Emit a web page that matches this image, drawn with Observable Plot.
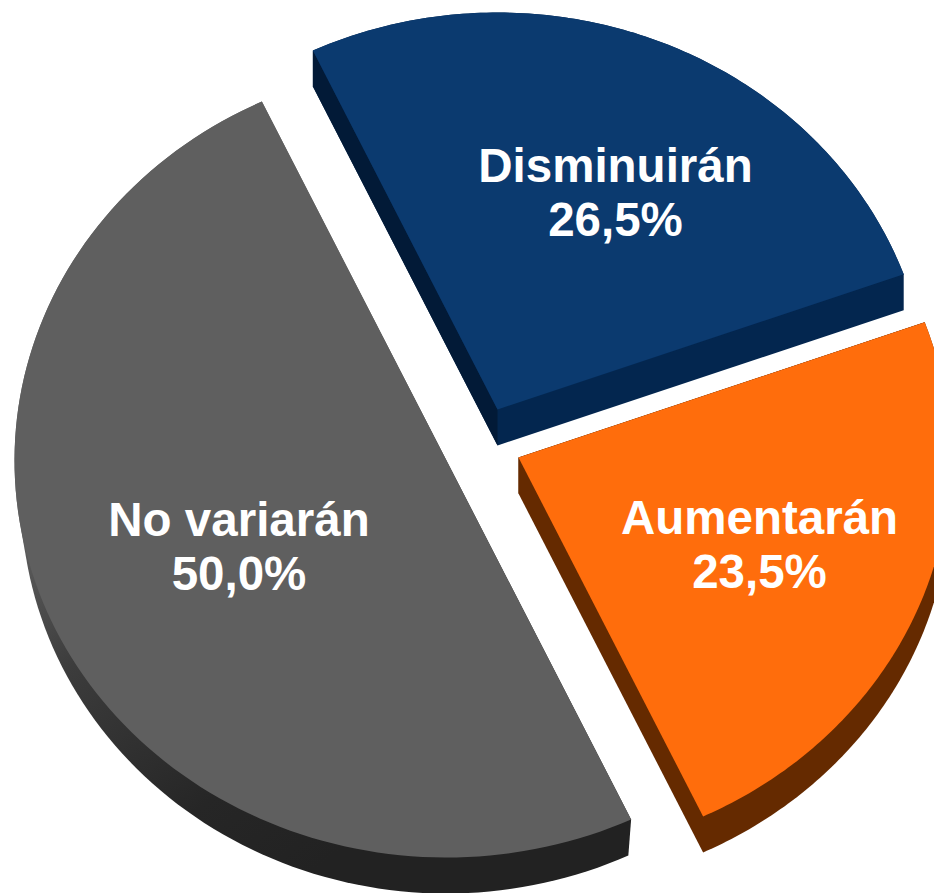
<!DOCTYPE html>
<html lang="es">
<head>
<meta charset="utf-8">
<title>Pie chart</title>
<script src="https://cdn.jsdelivr.net/npm/d3@7"></script>
<script src="https://cdn.jsdelivr.net/npm/@observablehq/plot@0.6"></script>
<style>
  html, body { margin: 0; padding: 0; background: #fff; }
  svg { display: block; }
</style>
</head>
<body>
<div id="chart"></div>
<script>
// Data, clockwise from the start angle
const categories = ["Disminuirán", "Aumentarán", "No variarán"];
const shares = [26.5, 23.5, 50.0];

// Styles
const topColors = ["#0b3a6f", "#ff6d0c", "#5f5f5f"];
const frontColors = ["#03264f", "#652a00", "url(#rim)"];
const leftColors = ["#021a37", "#652a00", null];

// Layout of the tilted, exploded pie
const centers = [[497, 409], [518, 457], [446, 460]];
const labelAt = [[615, 191], [759, 543], [238.5, 545]];
const rx = 432, ry = 397, depth = 36;
const baseShrink = 0.985; // perspective: the underside is slightly narrower
const startAngle = -25.3;

const W = 934, H = 893;
const total = d3.sum(shares);
let cursor = startAngle;
const slices = categories.map((name, i) => {
  const a0 = cursor, a1 = cursor + shares[i] / total * 360;
  cursor = a1;
  const [cx, cy] = centers[i];
  const arc = d3.range(0, 121).map(k => {
    const a = (a0 + (a1 - a0) * k / 120) * Math.PI / 180;
    return [cx + rx * Math.sin(a), cy - ry * Math.cos(a)];
  });
  const face = [[cx, cy], ...arc];
  const shrink = i === 2 ? baseShrink : 1;
  const down = p => [cx + (p[0] - cx) * shrink, p[1] + depth];
  const hull = d3.polygonHull([...face, ...face.map(down)]);
  const left = [face[0], arc[0], down(arc[0]), down(face[0])];
  return {name, i, face, hull, left};
});

const poly = (pts, fill) => Plot.line(pts, {x: d => d[0], y: d => d[1], fill, stroke: "none", curve: "linear"});

const defs = () => {
  const s = d3.create("svg:defs");
  const g = s.append("linearGradient").attr("id", "rim")
    .attr("gradientUnits", "userSpaceOnUse")
    .attr("x1", 15).attr("y1", 500).attr("x2", 300).attr("y2", 880);
  [[0, "#666666"], [0.35, "#3c3c3c"], [0.75, "#262626"], [1, "#222222"]].forEach(([o, c]) =>
    g.append("stop").attr("offset", o).attr("stop-color", c));
  return s.node();
};

const marks = [defs];
slices.forEach(s => {
  marks.push(poly(s.hull, frontColors[s.i]));
  if (leftColors[s.i]) marks.push(poly(s.left, leftColors[s.i]));
  marks.push(poly(s.face, topColors[s.i]));
});
marks.push(Plot.text(slices, {
  x: s => labelAt[s.i][0],
  y: s => labelAt[s.i][1],
  text: s => `${s.name}\n${shares[s.i].toFixed(1).replace(".", ",")}%`,
  fill: "#ffffff",
  fontFamily: "Liberation Sans, Arial, sans-serif",
  fontWeight: "bold",
  fontSize: 47.5,
  lineHeight: 54 / 47.5,
  textAnchor: "middle"
}));

const chart = Plot.plot({
  width: W,
  height: H,
  margin: 0,
  style: {background: "#ffffff", overflow: "hidden"},
  x: {domain: [0, W], range: [0, W], axis: null},
  y: {domain: [0, H], range: [0, H], axis: null},
  marks
});
document.getElementById("chart").appendChild(chart);
</script>
</body>
</html>
